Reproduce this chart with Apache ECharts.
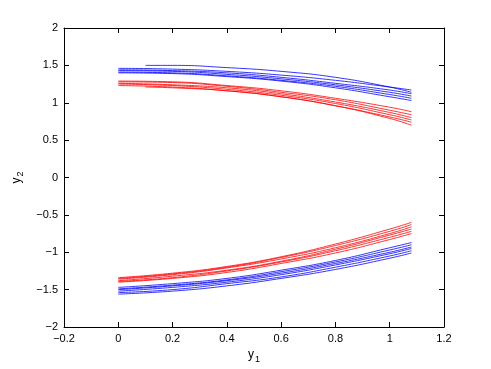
<!DOCTYPE html>
<html>
<head>
<meta charset="utf-8">
<script src="https://cdn.jsdelivr.net/npm/echarts@6/dist/echarts.min.js"></script>
<style>
  html, body { margin: 0; padding: 0; background: #fff; }
  #chart { width: 491px; height: 369px; }
</style>
</head>
<body>
<div id="chart"></div>
<script>
// sample positions along y1
var xs = [0, 0.2, 0.4, 0.6, 0.8, 1.0, 1.08];
var xsLate = [0.1, 0.2, 0.4, 0.6, 0.8, 1.0, 1.08];

// upper blue bundle
var blueTop = [
  [1.46, 1.45, 1.42, 1.37, 1.30, 1.21, 1.17],
  [1.44, 1.43, 1.40, 1.34, 1.26, 1.17, 1.12],
  [1.43, 1.42, 1.38, 1.32, 1.24, 1.14, 1.09],
  [1.41, 1.40, 1.36, 1.30, 1.22, 1.11, 1.06],
  [1.40, 1.39, 1.35, 1.29, 1.20, 1.08, 1.03]
];
var blueTopLate = [1.50, 1.50, 1.47, 1.42, 1.34, 1.21, 1.14];

// upper red bundle
var redTop = [
  [1.29, 1.28, 1.23, 1.16, 1.06, 0.94, 0.88],
  [1.28, 1.27, 1.22, 1.14, 1.04, 0.90, 0.84],
  [1.26, 1.24, 1.20, 1.12, 1.01, 0.87, 0.80],
  [1.25, 1.23, 1.18, 1.10, 0.99, 0.84, 0.77],
  [1.23, 1.21, 1.16, 1.08, 0.96, 0.81, 0.74]
];
var redTopLate = [1.21, 1.20, 1.16, 1.08, 0.96, 0.79, 0.70];

// lower red bundle
var redBottom = [
  [-1.34, -1.28, -1.19, -1.06, -0.89, -0.69, -0.60],
  [-1.35, -1.29, -1.20, -1.07, -0.91, -0.72, -0.63],
  [-1.36, -1.30, -1.21, -1.09, -0.94, -0.75, -0.66],
  [-1.38, -1.32, -1.24, -1.12, -0.96, -0.77, -0.69],
  [-1.39, -1.34, -1.25, -1.13, -0.98, -0.80, -0.72],
  [-1.40, -1.35, -1.27, -1.15, -1.01, -0.83, -0.75]
];

// lower blue bundle
var blueBottom = [
  [-1.47, -1.42, -1.35, -1.24, -1.11, -0.94, -0.87],
  [-1.49, -1.44, -1.37, -1.26, -1.13, -0.97, -0.90],
  [-1.50, -1.45, -1.38, -1.28, -1.15, -1.00, -0.93],
  [-1.52, -1.47, -1.40, -1.30, -1.17, -1.02, -0.95],
  [-1.54, -1.50, -1.42, -1.33, -1.20, -1.05, -0.98],
  [-1.56, -1.52, -1.45, -1.35, -1.23, -1.08, -1.01]
];

var BLUE = '#0000ff';
var RED = '#ff0000';

function mkLine(xv, yv, color) {
  var pts = [];
  for (var i = 0; i < xv.length; i++) {
    pts.push([xv[i], yv[i]]);
  }
  return {
    type: 'line',
    data: pts,
    smooth: true,
    showSymbol: false,
    silent: true,
    lineStyle: { color: color, width: 0.8 },
    xAxisIndex: 0,
    yAxisIndex: 0
  };
}

var series = [];
blueTop.forEach(function (y) { series.push(mkLine(xs, y, BLUE)); });
series.push(mkLine(xsLate, blueTopLate, BLUE));
redTop.forEach(function (y) { series.push(mkLine(xs, y, RED)); });
series.push(mkLine(xsLate, redTopLate, RED));
redBottom.forEach(function (y) { series.push(mkLine(xs, y, RED)); });
blueBottom.forEach(function (y) { series.push(mkLine(xs, y, BLUE)); });

function fmt(v) {
  return String(Math.round(v * 10) / 10).replace('-', '\u2212');
}

var FONT = 'Liberation Sans';
var axisLine = { show: true, onZero: false, lineStyle: { color: '#000', width: 1 } };
var tickIn = { show: true, inside: true, length: 5, lineStyle: { color: '#000', width: 1 } };
var nameRich = {
  a: { fontSize: 12, fontFamily: FONT, color: '#000' },
  s: { fontSize: 9, fontFamily: FONT, color: '#000', padding: [9, 0, 0, 1] }
};

var chart = echarts.init(document.getElementById('chart'));
chart.setOption({
  animation: false,
  backgroundColor: '#fff',
  grid: { left: 64, top: 28, right: 47, bottom: 42, containLabel: false },
  xAxis: [
    {
      type: 'value', min: -0.2, max: 1.2, interval: 0.2, position: 'bottom',
      axisLine: axisLine, axisTick: tickIn, splitLine: { show: false },
      axisLabel: { formatter: fmt, color: '#000', fontSize: 11, fontFamily: FONT, margin: 6 },
      name: '{a|y}{s|1}', nameLocation: 'middle', nameGap: 19,
      nameTextStyle: { color: '#000', fontFamily: FONT, rich: nameRich }
    },
    {
      type: 'value', min: -0.2, max: 1.2, interval: 0.2, position: 'top',
      axisLine: axisLine, axisTick: tickIn, axisLabel: { show: false }, splitLine: { show: false }
    }
  ],
  yAxis: [
    {
      type: 'value', min: -2, max: 2, interval: 0.5, position: 'left',
      axisLine: axisLine, axisTick: tickIn, splitLine: { show: false },
      axisLabel: { formatter: fmt, color: '#000', fontSize: 11, fontFamily: FONT, margin: 6 },
      name: '{a|y}{s|2}', nameLocation: 'middle', nameGap: 32, nameRotate: 90,
      nameTextStyle: { color: '#000', fontFamily: FONT, rich: nameRich }
    },
    {
      type: 'value', min: -2, max: 2, interval: 0.5, position: 'right',
      axisLine: axisLine, axisTick: tickIn, axisLabel: { show: false }, splitLine: { show: false }
    }
  ],
  series: series
});
</script>
</body>
</html>
